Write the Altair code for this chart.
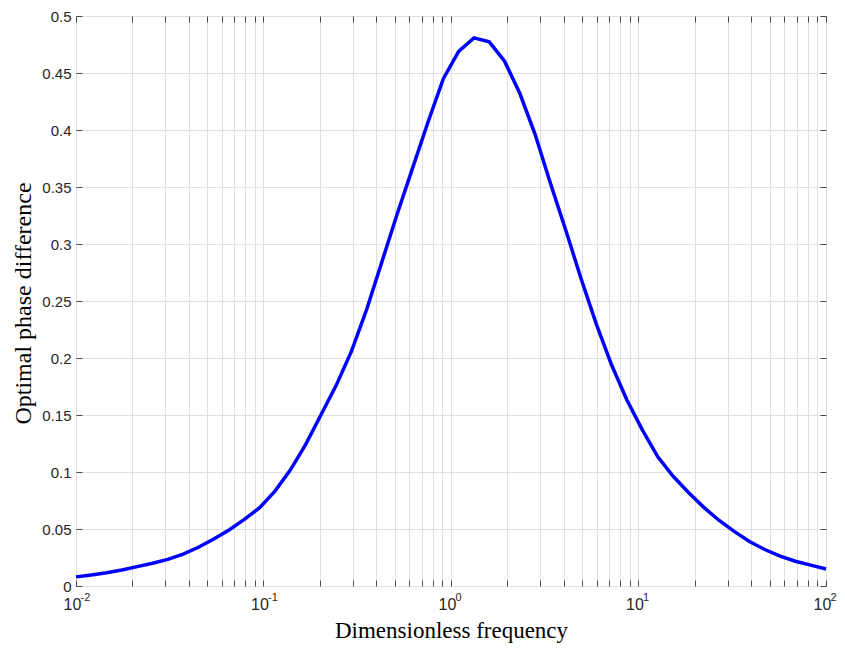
import altair as alt
import pandas as pd

# Dimensionless frequency samples (log-spaced) and optimal phase difference
freq = [0.01, 0.012068, 0.014563, 0.017575, 0.021210, 0.025595, 0.030888, 0.037276,
        0.044984, 0.054287, 0.065513, 0.079060, 0.095410, 0.11514, 0.13895, 0.16768,
        0.20236, 0.24421, 0.29471, 0.35565, 0.42919, 0.51795, 0.62506, 0.75431,
        0.91030, 1.0985, 1.3257, 1.5999, 1.9307, 2.3300, 2.8118, 3.3932,
        4.0949, 4.9417, 5.9636, 7.1969, 8.6851, 10.481, 12.649, 15.264,
        18.421, 22.230, 26.827, 32.375, 39.069, 47.149, 56.899, 68.665,
        82.864, 100.0]
phase = [0.0080, 0.0097, 0.0117, 0.0141, 0.0170, 0.0199, 0.0234, 0.0280,
         0.0340, 0.0412, 0.0491, 0.0584, 0.0687, 0.0832, 0.1017, 0.1240,
         0.1500, 0.1760, 0.2060, 0.2430, 0.2850, 0.3270, 0.3670, 0.4070,
         0.4450, 0.4690, 0.4808, 0.4773, 0.4604, 0.4320, 0.3960, 0.3530,
         0.3120, 0.2696, 0.2295, 0.1936, 0.1630, 0.1370, 0.1135, 0.0965,
         0.0822, 0.0692, 0.0577, 0.0479, 0.0391, 0.0320, 0.0262, 0.0217,
         0.0183, 0.0149]

x_ticks = [0.01, 0.02, 0.03, 0.04, 0.05, 0.06, 0.07, 0.08, 0.09,
           0.1, 0.2, 0.3, 0.4, 0.5, 0.6, 0.7, 0.8, 0.9,
           1, 2, 3, 4, 5, 6, 7, 8, 9,
           10, 20, 30, 40, 50, 60, 70, 80, 90, 100]
decade_values = [0.01, 0.1, 1, 10, 100]
decade_bases = ["10", "10", "10", "10", "10"]
decade_exponents = ["-2", "-1", "0", "1", "2"]
y_ticks = [0, 0.05, 0.1, 0.15, 0.2, 0.25, 0.3, 0.35, 0.4, 0.45, 0.5]

df = pd.DataFrame({"freq": freq, "phase": phase})


def decade_expr(texts):
    return " : ".join(
        f"datum.value == {v} ? '{t}'" for v, t in zip(decade_values, texts)
    ) + " : ''"


xscale = alt.Scale(type="log", domain=[0.01, 100], nice=False)
yscale = alt.Scale(domain=[0, 0.5], nice=False, zero=False)

W, H = 750, 570
PAD_L = 68
FRAME = "#4a4a4a"
GRID = "#e0e0e0"
LABEL = "#262626"

main = alt.Chart(df).mark_line(color="#0000ff", strokeWidth=3.5).encode(
    x=alt.X("freq:Q", scale=xscale, axis=alt.Axis(
        orient="bottom", values=x_ticks, labelExpr=decade_expr(decade_bases),
        labelOverlap=False, labelFlush=False, labelBound=False,
        ticks=False, tickSize=0, domain=False,
        grid=True, gridColor=GRID, gridWidth=1,
        labelFont="Liberation Sans", labelFontSize=16, labelColor=LABEL,
        labelPadding=10, labelOffset=-4,
        title="Dimensionless frequency", titleFont="Liberation Serif",
        titleFontSize=23, titleFontWeight="normal", titleColor="#000000",
        titleX=W / 2, titleY=51, titleAlign="center", titleBaseline="alphabetic")),
    y=alt.Y("phase:Q", scale=yscale, axis=alt.Axis(
        orient="left", values=y_ticks, format="~g",
        labelOverlap=False, labelFlush=False, labelBound=False,
        ticks=False, tickSize=0, domain=False,
        grid=True, gridColor=GRID, gridWidth=1,
        labelFont="Liberation Sans", labelFontSize=15, labelColor=LABEL,
        labelPadding=5,
        title="Optimal phase difference", titleFont="Liberation Serif",
        titleFontSize=24, titleFontWeight="normal", titleColor="#000000",
        titleAngle=270, titleX=30 - (PAD_L + 8), titleY=287,
        titleAlign="center", titleBaseline="alphabetic")),
)


def tick_axis(orient, values, **kw):
    opts = dict(orient=orient, values=values, labels=False, domain=False,
                grid=False, ticks=True, tickSize=6, tickColor=FRAME,
                tickWidth=1, offset=-6, title=None, zindex=1)
    opts.update(kw)
    return alt.Axis(**opts)


# bottom ticks carry the decade exponents as superscripts
ticks_bl = alt.Chart(df).mark_line(strokeOpacity=0).encode(
    x=alt.X("freq:Q", scale=xscale, axis=tick_axis(
        "bottom", x_ticks, labels=True, labelExpr=decade_expr(decade_exponents),
        labelOverlap=False, labelFlush=False, labelBound=False,
        labelFont="Liberation Sans", labelFontSize=11, labelColor=LABEL,
        labelAlign="left", labelOffset=4, labelPadding=5)),
    y=alt.Y("phase:Q", scale=yscale, axis=tick_axis("left", y_ticks)),
)
ticks_tr = alt.Chart(df).mark_line(strokeOpacity=0).encode(
    x=alt.X("freq:Q", scale=xscale, axis=tick_axis("top", x_ticks)),
    y=alt.Y("phase:Q", scale=yscale, axis=tick_axis("right", y_ticks)),
)

chart = alt.layer(main, ticks_bl, ticks_tr).resolve_axis(
    x="independent", y="independent"
).properties(
    width=W, height=H,
    padding={"left": PAD_L, "top": 8, "right": 11, "bottom": 62},
    autosize=alt.AutoSizeParams(type="none"),
    background="white",
).configure_view(stroke=FRAME, strokeWidth=1)

chart.save("out.html", embed_options={"renderer": "svg", "actions": False})
